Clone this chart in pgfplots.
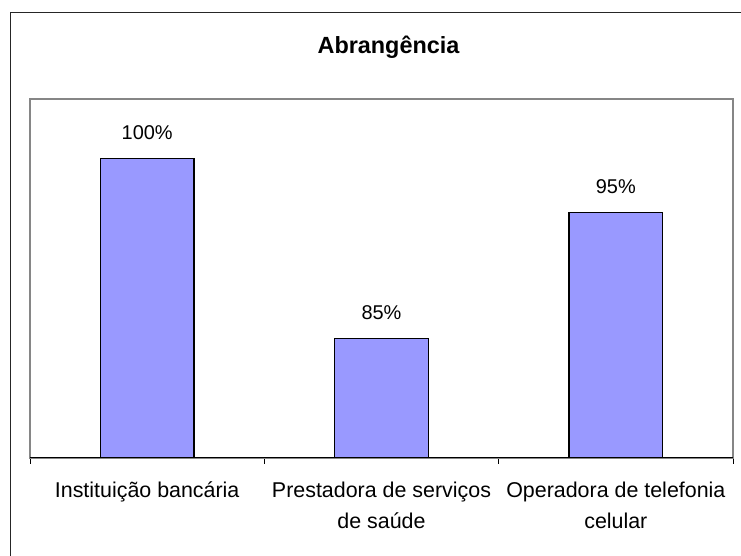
\documentclass[border=0pt]{standalone}
\usepackage{fontspec}
\setmainfont{Liberation Sans}
\usepackage{pgfplots}
\usepackage{pgfplotstable}
\pgfplotsset{compat=1.18}
\definecolor{barfill}{HTML}{9999FF}
\definecolor{frameGray}{HTML}{868686}
\pgfplotstableread{
x y lab
0 100 100
1 85 85
2 95.5 95
}\datatable
\begin{document}
\begin{tikzpicture}[x=1bp,y=1bp]
\path[use as bounding box] (0,0) rectangle (741,556);
\draw[line width=1.5bp, black!85] (10.7,0) -- (10.7,543.3) -- (741,543.3);
\node[anchor=base, font=\fontsize{23.5}{27}\selectfont\bfseries] at (388.5,502) {Abrangência};
\begin{axis}[
  at={(30bp,98bp)}, anchor=south west,
  scale only axis, width=703bp, height=359bp,
  xmin=-0.5, xmax=2.5, ymin=75, ymax=105,
  axis line style={frameGray, line width=1.5bp},
  ytick=\empty,
  xtick={0,1,2},
  xticklabels={
    {\begin{tabular}[t]{@{}c@{}}Instituição bancária\end{tabular}},
    {\begin{tabular}[t]{@{}c@{}}Prestadora de serviços\\de saúde\end{tabular}},
    {\begin{tabular}[t]{@{}c@{}}Operadora de telefonia\\celular\end{tabular}}},
  major tick length=0pt,
  minor xtick={-0.5,0.5,1.5,2.5},
  minor tick length=6bp,
  tick align=outside, xtick pos=bottom,
  minor tick style={black, line width=1bp},
  xticklabel style={font=\fontsize{21.5}{31}\selectfont, anchor=base, yshift=-39.5bp},
  nodes near coords={\pgfplotspointmeta\%},
  nodes near coords style={font=\fontsize{20}{24}\selectfont, anchor=base, yshift=19bp},
  point meta=explicit symbolic,
]
\addplot[ybar, bar width=0.4, fill=barfill, draw=black, line width=1.3bp] table[x=x, y=y, meta=lab] {\datatable};
\draw[black, line width=1.3bp] (rel axis cs:0,0) -- (rel axis cs:1,0);
\end{axis}
\end{tikzpicture}
\end{document}
